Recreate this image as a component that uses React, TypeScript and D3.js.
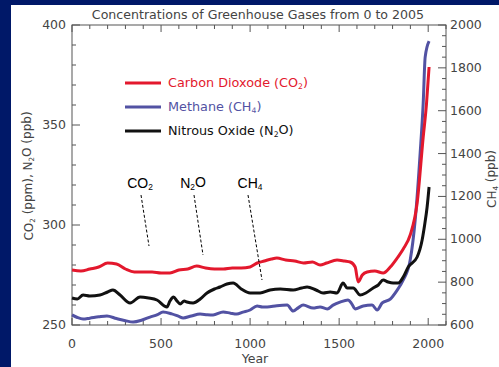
import React from "react";
import * as d3 from "d3";

const co2Years = [0,50,100,150,200,250,300,350,400,450,500,550,600,650,700,750,800,850,900,950,1000,1040,1080,1120,1150,1200,1250,1300,1350,1393,1430,1488,1530,1562,1590,1607,1630,1657,1700,1747,1787,1826,1860,1899,1938,1972,1990,2005];
const co2Values = [277.5,277,278,279,281,280.5,278,276.5,276.5,276.5,276,276,277.5,278,279.5,278.5,278,278,278.5,278.5,279,281,282,283,283.5,282.5,282,281,281.5,280,281,282.5,282,281.5,279,271.5,275,276.5,277,276,279,283.5,288,295,311,344,360,379];

const n2oYears = [0,30,62,100,157,200,230,270,326,382,430,477,533,550,570,590,607,630,645,680,720,758,800,831,870,905,950,1000,1056,1112,1170,1242,1290,1320,1370,1410,1450,1488,1522,1545,1579,1618,1650,1691,1720,1747,1775,1803,1832,1860,1888,1938,1966,1980,1994,2005];
const n2oValues = [263.5,263,265,264.5,265,266.5,267.5,265,261,264,263.5,262.5,259,262,264,262,260.5,262,261.5,261,263,266,268,269,270.5,271,268,266,266,267.5,268,267.5,268.5,269,267.5,266,266.5,266,271,268.5,268.5,265,266,268.5,270,272.5,271.5,271,271,274,279,284,292.5,300,309,319];

const ch4Years = [0,30,62,100,150,196,250,300,343,390,438,480,511,560,600,624,670,719,760,792,849,890,925,960,1000,1039,1070,1096,1150,1208,1242,1270,1298,1354,1393,1433,1466,1505,1550,1570,1590,1635,1685,1713,1742,1787,1826,1860,1899,1927,1955,1972,1983,2005];
const ch4Values = [647,635,628,632,638,642,630,620,614,622,637,648,661,652,640,633,642,651,648,647,661,655,651,660,670,689,684,684,690,693,665,680,693,679,684,675,693,707,717,700,675,689,693,670,703,721,763,810,903,1090,1403,1636,1850,1925];

const xTicks = [0, 500, 1000, 1500, 2000];
const leftTicks = [250, 300, 350, 400];
const rightTicks = [600, 800, 1000, 1200, 1400, 1600, 1800, 2000];

const W = 499, H = 367;
const L = 72, R = 446, T = 25, B = 325;

const x = d3.scaleLinear().domain([0, 2100]).range([L, R]);
const yL = d3.scaleLinear().domain([250, 400]).range([B, T]);
const yR = d3.scaleLinear().domain([600, 2000]).range([B, T]);

const AX = "#555";
const TXT = "#444";
const FONT = "'DejaVu Sans', sans-serif";
const RED = "#e3182d";
const BLUE = "#5252a3";
const BLACK = "#111";

function Sub({ base, sub, after }: { base: string; sub: string; after?: string }) {
  return (
    <>
      {base}
      <tspan fontSize="0.6em" dy="0.25em">{sub}</tspan>
      <tspan dy="-0.25em">{after || ""}</tspan>
    </>
  );
}

export default function App() {
  const mk = (ys: number[], vs: number[], sy: d3.ScaleLinear<number, number>) =>
    d3.line<number>()
      .x((_, i) => x(ys[i]))
      .y((v) => sy(v))
      .curve(d3.curveMonotoneX)(vs) || "";

  const minorX = d3.range(0, 2101, 100);
  const minorL = d3.range(250, 401, 10);
  const minorR = d3.range(600, 2001, 50);

  return (
    <svg width={W} height={H} style={{ position: "absolute", left: 0, top: 0 }} fontFamily={FONT}>
      <rect x={0} y={0} width={W} height={H} fill="#001868" />
      <rect x={11} y={5} width={W - 11} height={H - 5} fill="#fff" />
      <text x={258} y={19} textAnchor="middle" fontSize={12.6} fill={TXT}>
        Concentrations of Greenhouse Gases from 0 to 2005
      </text>

      {/* frame */}
      <rect x={L} y={T} width={R - L} height={B - T} fill="none" stroke={AX} strokeWidth={1} />

      {/* x ticks */}
      {minorX.map((v) => {
        const len = v % 500 === 0 ? 7 : 4;
        return (
          <g key={"x" + v}>
            <line x1={x(v)} x2={x(v)} y1={B} y2={B - len} stroke={AX} />
            <line x1={x(v)} x2={x(v)} y1={T} y2={T + len} stroke={AX} />
          </g>
        );
      })}
      {xTicks.map((v) => (
        <text key={"xl" + v} x={x(v)} y={348} textAnchor="middle" fontSize={12.5} fill={TXT}>{v}</text>
      ))}
      <text x={255} y={363} textAnchor="middle" fontSize={12.5} fill={TXT}>Year</text>

      {/* left ticks */}
      {minorL.map((v) => {
        const len = v % 50 === 0 ? 8 : 4;
        return <line key={"l" + v} x1={L} x2={L + len} y1={yL(v)} y2={yL(v)} stroke={AX} />;
      })}
      {leftTicks.map((v) => (
        <text key={"ll" + v} x={66} y={yL(v) + 4} textAnchor="end" fontSize={12.5} fill={TXT}>{v}</text>
      ))}
      <text transform={`translate(33,176) rotate(-90)`} textAnchor="middle" fontSize={12} fill={TXT}>
        <Sub base="CO" sub="2" after=" (ppm), N" />
        <tspan fontSize="0.6em" dy="0.25em">2</tspan>
        <tspan dy="-0.25em">O (ppb)</tspan>
      </text>

      {/* right ticks */}
      {minorR.map((v) => {
        const len = v % 200 === 0 ? 8 : 4;
        return <line key={"r" + v} x1={R} x2={R - len} y1={yR(v)} y2={yR(v)} stroke={AX} />;
      })}
      {rightTicks.map((v) => (
        <text key={"rl" + v} x={450} y={yR(v) + 4} textAnchor="start" fontSize={12.5} fill={TXT}>{v}</text>
      ))}
      <text transform={`translate(496,179) rotate(-90)`} textAnchor="middle" fontSize={12} fill={TXT}>
        <Sub base="CH" sub="4" after=" (ppb)" />
      </text>

      {/* series */}
      <path d={mk(ch4Years, ch4Values, yR)} fill="none" stroke={BLUE} strokeWidth={3} strokeLinejoin="round" />
      <path d={mk(co2Years, co2Values, yL)} fill="none" stroke={RED} strokeWidth={3} strokeLinejoin="round" />
      <path d={mk(n2oYears, n2oValues, yL)} fill="none" stroke={BLACK} strokeWidth={3} strokeLinejoin="round" />

      {/* legend */}
      <line x1={125} x2={161} y1={83} y2={83} stroke={RED} strokeWidth={3} />
      <text x={168} y={87} fontSize={12.8} fill={RED}><Sub base="Carbon Dioxode (CO" sub="2" after=")" /></text>
      <line x1={125} x2={161} y1={107} y2={107} stroke={BLUE} strokeWidth={3} />
      <text x={168} y={111} fontSize={12.8} fill={BLUE}><Sub base="Methane (CH" sub="4" after=")" /></text>
      <line x1={125} x2={161} y1={131} y2={131} stroke={BLACK} strokeWidth={3} />
      <text x={168} y={135} fontSize={12.8} fill={BLACK}><Sub base="Nitrous Oxide (N" sub="2" after="O)" /></text>

      {/* annotations */}
      <g fontFamily="'Liberation Sans', Arial, sans-serif" fontSize={14} fill="#000">
        <text x={140} y={188} textAnchor="middle"><Sub base="CO" sub="2" /></text>
        <text x={193} y={188} textAnchor="middle"><tspan>N</tspan><tspan fontSize="0.6em" dy="0.25em">2</tspan><tspan dy="-0.25em">O</tspan></text>
        <text x={250} y={188} textAnchor="middle"><Sub base="CH" sub="4" /></text>
      </g>
      <line x1={141} y1={195} x2={149} y2={246} stroke="#000" strokeDasharray="3,2" />
      <line x1={194} y1={195} x2={203} y2={255} stroke="#000" strokeDasharray="3,2" />
      <line x1={248} y1={195} x2={262} y2={280} stroke="#000" strokeDasharray="3,2" />
    </svg>
  );
}
